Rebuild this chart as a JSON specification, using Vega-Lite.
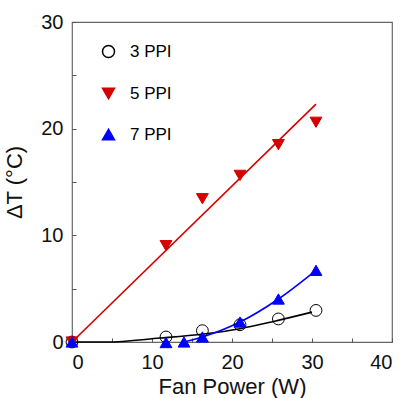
{
  "$schema": "https://vega.github.io/schema/vega-lite/v6.json",
  "autosize": {"type": "none"},
  "width": 320,
  "height": 320,
  "padding": {"left": 72, "top": 22, "right": 13, "bottom": 56},
  "background": "white",
  "config": {
    "font": "Liberation Sans",
    "view": {"stroke": "#666666", "strokeWidth": 1.2},
    "axis": {
      "grid": false,
      "domain": false,
      "tickSize": -4,
      "tickColor": "#555555",
      "tickWidth": 1,
      "labelFont": "Liberation Sans",
      "labelFontSize": 20,
      "labelColor": "#111111",
      "titleFont": "Liberation Sans",
      "titleFontSize": 22,
      "titleFontWeight": "normal",
      "titleColor": "#111111"
    }
  },
  "datasets": {
    "points": [
      {"series": "3 PPI", "power": 0, "dT": 0},
      {"series": "3 PPI", "power": 11.75, "dT": 0.47},
      {"series": "3 PPI", "power": 16.3, "dT": 1.06},
      {"series": "3 PPI", "power": 21.0, "dT": 1.62},
      {"series": "3 PPI", "power": 25.8, "dT": 2.16},
      {"series": "3 PPI", "power": 30.5, "dT": 2.96},
      {"series": "5 PPI", "power": 0, "dT": 0},
      {"series": "5 PPI", "power": 11.75, "dT": 9.03},
      {"series": "5 PPI", "power": 16.3, "dT": 13.43},
      {"series": "5 PPI", "power": 21.0, "dT": 15.62},
      {"series": "5 PPI", "power": 25.8, "dT": 18.5},
      {"series": "5 PPI", "power": 30.5, "dT": 20.6},
      {"series": "7 PPI", "power": 0, "dT": 0},
      {"series": "7 PPI", "power": 11.75, "dT": -0.05},
      {"series": "7 PPI", "power": 14.0, "dT": 0},
      {"series": "7 PPI", "power": 16.3, "dT": 0.47},
      {"series": "7 PPI", "power": 21.0, "dT": 1.87},
      {"series": "7 PPI", "power": 25.8, "dT": 4.03},
      {"series": "7 PPI", "power": 30.5, "dT": 6.72}
    ],
    "fits": [
      {"series": "3 PPI", "power": 0, "dT": 0},
      {"series": "3 PPI", "power": 4.3, "dT": 0},
      {"series": "3 PPI", "power": 11, "dT": 0.37},
      {"series": "3 PPI", "power": 16.45, "dT": 0.75},
      {"series": "3 PPI", "power": 21, "dT": 1.25},
      {"series": "3 PPI", "power": 25.2, "dT": 1.93},
      {"series": "3 PPI", "power": 30, "dT": 2.8},
      {"series": "5 PPI", "power": 0, "dT": 0},
      {"series": "5 PPI", "power": 30.5, "dT": 22.3},
      {"series": "7 PPI", "power": 14.0, "dT": 0},
      {"series": "7 PPI", "power": 16.3, "dT": 0.47},
      {"series": "7 PPI", "power": 21.0, "dT": 1.87},
      {"series": "7 PPI", "power": 25.8, "dT": 4.03},
      {"series": "7 PPI", "power": 30.5, "dT": 6.72}
    ]
  },
  "encoding": {
    "x": {
      "field": "power",
      "type": "quantitative",
      "scale": {"domain": [0, 40], "nice": false, "zero": false},
      "axis": {
        "title": "Fan Power (W)",
        "values": [0, 5, 10, 15, 20, 25, 30, 35, 40],
        "labelExpr": "datum.value % 10 === 0 ? datum.label : ''",
        "labelPadding": 14,
        "titlePadding": 4
      }
    },
    "y": {
      "field": "dT",
      "type": "quantitative",
      "scale": {"domain": [0, 30], "nice": false, "zero": false},
      "axis": {
        "title": "ΔT (°C)",
        "values": [0, 5, 10, 15, 20, 25, 30],
        "labelExpr": "datum.value % 10 === 0 ? datum.label : ''",
        "labelPadding": 13,
        "titlePadding": 14
      }
    }
  },
  "layer": [
    {
      "data": {"name": "fits"},
      "mark": {"type": "line", "strokeWidth": 1.6, "interpolate": "monotone"},
      "encoding": {
        "stroke": {
          "field": "series",
          "type": "nominal",
          "scale": {"domain": ["3 PPI", "5 PPI", "7 PPI"], "range": ["#000000", "#d40000", "#0000ff"]}
        }
      }
    },
    {
      "data": {"name": "points"},
      "mark": {"type": "point", "strokeWidth": 1, "opacity": 1},
      "encoding": {
        "stroke": {
          "field": "series",
          "type": "nominal",
          "scale": {"domain": ["3 PPI", "5 PPI", "7 PPI"], "range": ["#000000", "#d40000", "#0000ff"]},
          "legend": {
            "title": null,
            "orient": "none",
            "legendX": 28,
            "legendY": 21,
            "symbolSize": 144,
            "symbolStrokeWidth": 1.5,
            "labelFont": "Liberation Sans",
            "labelFontSize": 17,
            "labelOffset": 13,
            "rowPadding": 23
          }
        },
        "fill": {
          "field": "series",
          "type": "nominal",
          "scale": {"domain": ["3 PPI", "5 PPI", "7 PPI"], "range": ["transparent", "#d40000", "#0000ff"]},
          "legend": null
        },
        "shape": {
          "field": "series",
          "type": "nominal",
          "scale": {"domain": ["3 PPI", "5 PPI", "7 PPI"], "range": ["circle", "triangle-down", "triangle-up"]},
          "legend": null
        },
        "size": {"value": 140}
      }
    }
  ]
}
